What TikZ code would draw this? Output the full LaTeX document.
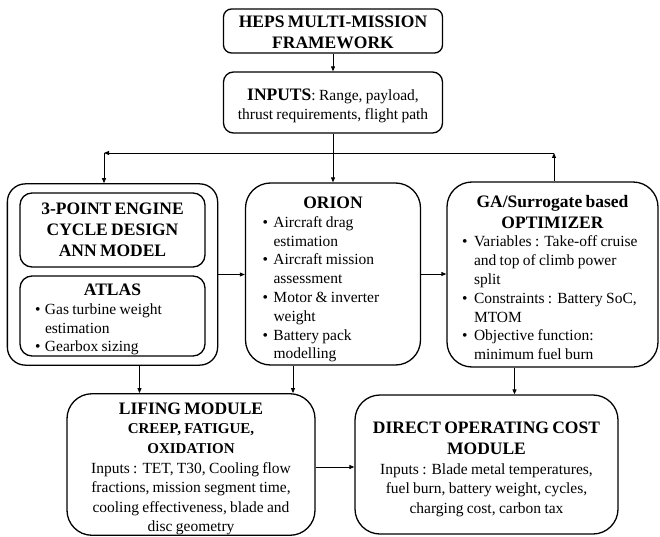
\documentclass[tikz,border=0pt]{standalone}
\usepackage{fontspec}
\setmainfont{Liberation Serif}
\usetikzlibrary{positioning, arrows.meta, fit}

\newcommand\ttl{\fontsize{17.5}{21}\selectfont\bfseries}
\newcommand\subttl{\fontsize{15}{19.6}\selectfont\bfseries}
\newcommand\bdy[1][18.8]{\normalfont\fontsize{15.5}{#1}\selectfont}
\newcommand\bul[2][12pt]{\par\hangindent=#1\hangafter=1\noindent\makebox[#1][l]{\textbullet}#2\par}
% taller first line, so the text sits a bit lower in its box
\newcommand\up[1]{\rule{0pt}{\dimexpr11.6pt+#1pt+#1pt\relax}}

\begin{document}
\begin{tikzpicture}[x=1pt, y=-1pt, line width=0.9pt, >={Triangle[length=5pt, width=4pt]},
   blk/.style={draw, line width=1.3pt, rounded corners=#1, inner ysep=0pt},
   blk/.default=25pt]
  \useasboundingbox (0,0) rectangle (660,537);
  \node[blk=8pt, align=center, text width=207pt, inner xsep=6pt, minimum height=44pt]
    (heps) at (333,31) {\ttl\up{1.5}HEPS MULTI-MISSION\\FRAMEWORK\par};
  \node[blk=10pt, align=center, text width=207pt, inner xsep=6pt, minimum height=61pt]
    (inp) at (333,102.5) {\bdy{\ttl\up{3}INPUTS}: Range, payload,\\thrust requirements, flight path\par};
  \node[blk=12pt, align=center, text width=173pt, inner xsep=6pt, minimum height=74pt]
    (ann) at (112.5,230) {\ttl 3-POINT ENGINE\\CYCLE DESIGN\\ANN MODEL\par};
  \node[blk=12pt, align=left, text width=155pt, inner xsep=15pt, minimum height=80pt]
    (atlas) at (112.5,316) {{\centering\ttl\up{3.5}ATLAS\par}\bdy
      \bul[10pt]{Gas turbine weight\newline estimation}\bul[10pt]{Gearbox sizing}};
  \node[blk=18pt, fit=(ann)(atlas), inner xsep=12pt, inner ysep=8.5pt] (cyc) {};
  \node[blk, align=left, text width=141pt, inner xsep=17pt, minimum height=182pt]
    (orion) at (333,274) {{\centering\ttl\up{5.5}ORION\par}\bdy
      \bul[11pt]{Aircraft drag\newline estimation}\bul[11pt]{Aircraft mission\newline assessment}
      \bul[11pt]{Motor \& inverter\newline weight}\bul[11pt]{Battery pack\newline modelling}};
  \node[blk, align=left, text width=181pt, inner xsep=15pt, minimum height=185pt]
    (opt) at (552.5,274.5) {{\centering\ttl\up{3.2}GA/Surrogate based\par OPTIMIZER\par}\bdy
      \bul{Variables : Take-off cruise\newline and top of climb power\newline split}
      \bul{Constraints : Battery SoC,\newline MTOM}\bul{Objective function:\newline minimum fuel burn}};
  \node[blk, align=center, text width=232pt, inner xsep=8pt, minimum height=139pt]
    (lif) at (191,464.5) {\ttl\up{4.5}LIFING MODULE\\\subttl CREEP, FATIGUE,\\OXIDATION\\
      \bdy[19.6] Inputs : TET, T30, Cooling flow\\fractions, mission segment time,\\cooling effectiveness, blade and\\disc geometry\par};
  \node[blk, align=center, text width=247pt, inner xsep=8pt, minimum height=139pt]
    (doc) at (486.5,464.5) {\ttl\up{5}DIRECT OPERATING COST\\MODULE\\
      \bdy[19.6] Inputs : Blade metal temperatures,\\fuel burn, battery weight, cycles,\\charging cost, carbon tax\par};
  \coordinate (jr) at (554,153);
  \coordinate (jl) at (104,153);
  % feed-back loop over the top
  \draw[->] (heps) -- (inp);
  \draw[->] (inp) -- (orion);
  \draw[->] (opt.north -| jr) -- (jr);
  \draw[->] (jr) -- (jl);
  \draw[->] (jl) -- (jl |- cyc.north);
  \draw[->] (cyc.east) -- (cyc.east -| orion.west);
  \draw[->] (orion.east) -- (orion.east -| opt.west);
  % down to the cost modules
  \draw[->] ([xshift=27pt]cyc.south) -- ([xshift=27pt]cyc.south |- lif.north);
  \draw[->] ([xshift=-40pt]orion.south) -- ([xshift=-40pt]orion.south |- lif.north);
  \draw[->] ([xshift=-38pt]opt.south) -- ([xshift=-38pt]opt.south |- doc.north);
  \draw[->] ([yshift=-2.5pt]lif.east) -- ([yshift=-2.5pt]lif.east -| doc.west);
\end{tikzpicture}
\end{document}
